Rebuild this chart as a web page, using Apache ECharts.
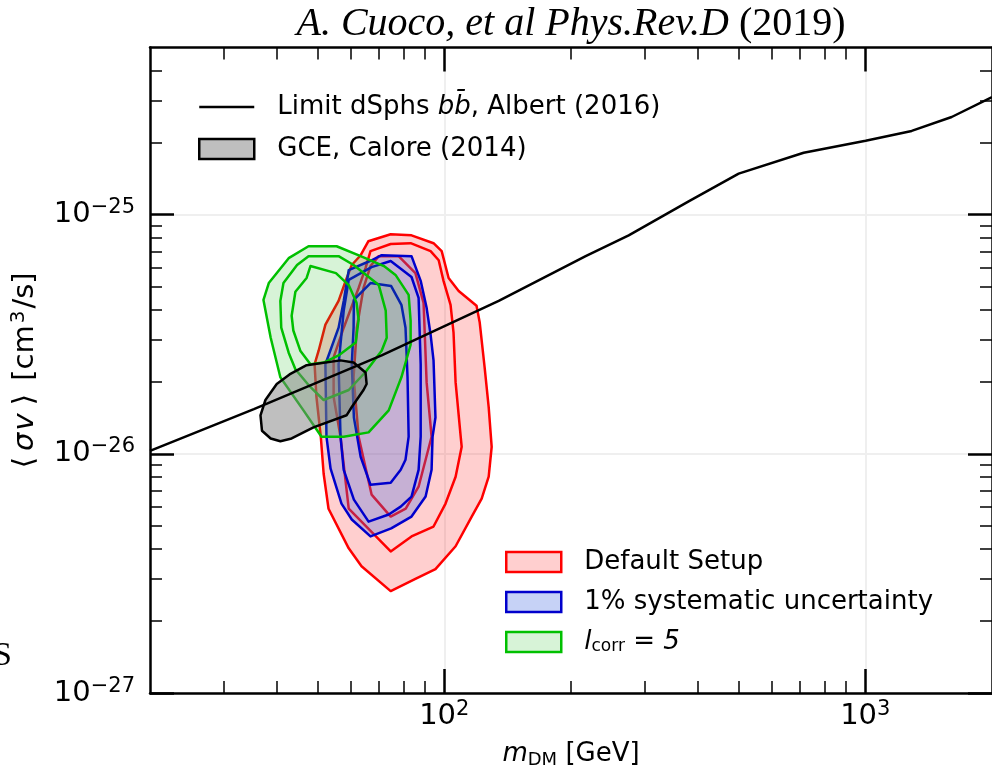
<!DOCTYPE html>
<html>
<head>
<meta charset="utf-8">
<title>Cuoco et al 2019</title>
<script src="https://cdn.jsdelivr.net/npm/echarts@6/dist/echarts.min.js"></script>
<style>
  html, body {margin:0;padding:0;background:#fff;}
  #chart {width:992px;height:774px;}
</style>
</head>
<body>
<div id="chart"></div>
<script>
// axis ranges: mass in GeV, <sigma v> in cm^3/s
var massMin = 20, massMax = 2000;
var sigmaMin = 1e-27, sigmaMax = 5e-25;
var massMajor = [100, 1000];
var sigmaMajor = [1e-27, 1e-26, 1e-25];

// dSph limit, Albert (2016). sigma values in units of 1e-26 cm^3/s
var limitMass  = [20, 35.3, 71, 134.7, 216.7, 274.2, 380.6, 500.4, 714, 1002, 1289, 1604, 2000];
var limitSigma = [1.03, 1.54, 2.58, 4.36, 6.71, 8.2, 11.36, 14.85, 18.15, 20.36, 22.4, 25.61, 31.0];

// contours, [mass, sigma/1e-26], outer level first
var defaultOuter = [[66,7.74],[74.6,8.28],[83.6,8.2],[94.3,7.6],[98.6,7.04],[102.4,5.44],[108.2,4.8],[119.3,4.16],[121.4,3.54],[124.7,2.3],[127.5,1.57],[129.6,1.07],[127.5,0.803],[122.7,0.65],[116.2,0.547],[106.4,0.411],[95.3,0.33],[85.4,0.3],[74.6,0.267],[63.6,0.339],[59.3,0.403],[53.1,0.59],[51.7,0.826],[50.9,1.18],[49.7,1.73],[49.2,2.37],[50.3,2.7],[52.2,3.47],[56.1,4.36],[58.3,5.29],[60.3,6.16],[63.3,6.77]];
var defaultMid = [[66.8,7.04],[74.6,7.54],[83.2,7.6],[92.8,7.04],[97,6.45],[99.6,5.29],[103.5,4.2],[105.2,3.21],[106.4,1.99],[109.4,1.18],[110,1.07],[106.4,0.803],[100.7,0.62],[94.3,0.497],[83.6,0.452],[74.6,0.391],[59.3,0.59],[56.7,1.18],[54.6,1.73],[54.6,2.53],[57.7,3.37],[62.6,4.94],[65,5.98]];
var defaultInner = [[69.9,6.71],[77.9,6.71],[85.4,5.7],[89.3,4.28],[90.8,1.99],[93.3,1.18],[86.9,0.729],[81,0.59],[74.6,0.547],[67.2,0.676],[62.6,1.18],[60.9,2.09],[62,3.37],[64.3,4.94],[66.8,6.1]];

var sysOuter = [[59.3,5.86],[67.2,6.45],[71,6.77],[83.6,6.71],[87.9,5.29],[90.8,4.08],[92.8,3.15],[94.3,2.46],[95.3,1.42],[93.8,1.18],[93.3,0.858],[90.3,0.663],[83.6,0.547],[74.8,0.488],[66.8,0.452],[60.3,0.532],[57,0.62],[53.7,0.867],[52.5,1.18],[52.2,2.37],[56.1,3.37],[57.7,4.36]];
var sysMid = [[59.3,5.34],[67.2,6.04],[74.6,6.4],[83.6,5.49],[86.9,4.49],[87.9,2.37],[87.9,1.18],[86.9,0.858],[83.6,0.663],[78.8,0.602],[73.8,0.558],[66.1,0.521],[61,0.644],[57.7,0.858],[56.7,1.18],[56.1,2.37],[57.7,3.97]];
var sysInner = [[61,4.4],[66.8,5.18],[74.8,5.03],[79.1,4.2],[80.9,3.37],[81.8,2.09],[82.3,1.18],[80.9,0.946],[78.8,0.858],[74.6,0.757],[66.8,0.743],[63.3,0.972],[61,1.42],[60.3,2.37],[60.9,3.37]];

var corrOuter = [[47.6,7.38],[55.5,7.38],[63.3,6.71],[71.9,6.1],[76.6,5.6],[82.3,4.62],[83.2,3.6],[83.2,2.86],[79.1,2.09],[73.8,1.52],[66.1,1.23],[57.7,1.18],[51.1,1.18],[46.3,1.52],[40.8,2.09],[38.7,3.06],[37.2,4.4],[38.3,5.18],[42.7,6.58]];
var corrMid = [[40.8,4.36],[41,3.37],[42.7,2.65],[44.3,2.26],[47.6,1.94],[51.7,1.68],[59.3,1.85],[65,2.2],[71,2.7],[73,3.06],[72.6,3.97],[69.9,5.08],[60.9,6.16],[56.1,6.71],[47.6,6.71],[44.7,6.16],[41.5,5.18]];
var corrInner = [[48.1,6.1],[55.3,5.7],[59.3,5.08],[61.9,4.28],[62.6,3.64],[61.6,2.92],[56.1,2.58],[51.7,2.41],[48.1,2.37],[45.5,2.7],[43.8,3.28],[43.4,3.78],[44.3,4.76],[47.1,5.44]];

// GCE region, Calore (2014)
var gceRegion = [[42.9,2.15],[47.1,2.35],[56.7,2.46],[60.9,2.41],[65,2.19],[65.4,1.96],[64.3,1.85],[60.3,1.57],[58.6,1.45],[48.9,1.29],[43.4,1.16],[40.8,1.13],[38.7,1.16],[36.9,1.25],[36.6,1.45],[37.6,1.68],[40,1.96]];

var NAME_LIMIT = 'Limit dSphs bb\u0304, Albert (2016)';
var NAME_GCE = 'GCE, Calore (2014)';
var NAME_DEF = 'Default Setup';
var NAME_SYS = '1% systematic uncertainty';
var NAME_CORR = 'l_corr = 5';

var FONT = 'DejaVu Sans';
var lg = Math.log10;

function toLog(p) { return [lg(p[0]), lg(p[1] * 1e-26)]; }

// minor ticks at 2..9 x 10^n inside range
function minors(lo, hi, n0, n1) {
    var out = [];
    for (var n = n0; n <= n1; n++) {
        for (var k = 2; k <= 9; k++) {
            var v = k * Math.pow(10, n);
            if (v > lo * 1.0001 && v < hi * 0.9999) out.push(lg(v));
        }
    }
    return out;
}
var xMinor = minors(massMin, massMax, 1, 3);
var yMinor = minors(sigmaMin, sigmaMax, -27, -25);
var xMajor = massMajor.map(lg);
var yMajor = sigmaMajor.map(lg);

function expLabel(v) {
    var e = Math.round(v);
    var s = e < 0 ? '\u2212' + (-e) : '' + e;
    return '{b|10}{s|' + s + '}';
}
var labelRich = {
    b: {fontSize: 29, lineHeight: 35, fontFamily: FONT, color: '#000'},
    s: {fontSize: 21, lineHeight: 21, padding: [0, 0, 14, 0], fontFamily: FONT, color: '#000'}
};

function xAxisDef(pos, major, showLabel) {
    return {
        type: 'value', position: pos, min: lg(massMin), max: lg(massMax),
        axisLine: {show: major, onZero: false, lineStyle: {color: '#000', width: 2.5}},
        axisTick: {show: true, inside: true, length: major ? 24 : 12,
            customValues: major ? xMajor : xMinor,
            lineStyle: {color: '#000', width: major ? 2.5 : 1.5}},
        axisLabel: {show: showLabel, customValues: xMajor, margin: 6,
            formatter: expLabel, rich: labelRich},
        splitLine: {show: major && showLabel, lineStyle: {color: '#efefef', width: 2}},
        name: showLabel ? '{i|m}{sub|DM}{n| [GeV]}' : '',
        nameLocation: 'middle', nameGap: 35,
        nameTextStyle: {rich: {
            i: {fontSize: 26, fontStyle: 'italic', fontFamily: FONT, lineHeight: 30, color: '#000'},
            sub: {fontSize: 18, fontFamily: FONT, lineHeight: 18, padding: [12, 0, 0, 0], color: '#000'},
            n: {fontSize: 26, fontFamily: FONT, lineHeight: 30, color: '#000'}
        }}
    };
}
function yAxisDef(pos, major, showLabel) {
    var base = {fontSize: 29, fontFamily: FONT, lineHeight: 34, color: '#000'};
    return {
        type: 'value', position: pos, min: lg(sigmaMin), max: lg(sigmaMax),
        axisLine: {show: major, onZero: false, lineStyle: {color: '#000', width: 2.5}},
        axisTick: {show: true, inside: true, length: major ? 24 : 12,
            customValues: major ? yMajor : yMinor,
            lineStyle: {color: '#000', width: major ? 2.5 : 1.5}},
        axisLabel: {show: showLabel, customValues: yMajor, margin: 15,
            formatter: expLabel, rich: labelRich},
        splitLine: {show: major && showLabel, lineStyle: {color: '#efefef', width: 2}},
        name: showLabel ? '{la|\u27e8}{i|\u03c3}{iv|v}{ra|\u27e9}{n| [cm}{sup|3}{n|/s]}' : '',
        nameLocation: 'middle', nameGap: 84, nameRotate: 90,
        nameTextStyle: {rich: {
            la: echarts.util.extend({padding: [0, 6, 0, 0]}, base),
            ra: echarts.util.extend({padding: [0, 4, 0, 4]}, base),
            i: echarts.util.extend({fontStyle: 'italic', padding: [0, 2, 0, 0]}, base),
            iv: echarts.util.extend({fontStyle: 'italic', padding: [0, 4, 0, 0]}, base),
            n: base,
            sup: {fontSize: 20, fontFamily: FONT, lineHeight: 20, padding: [0, 2, 14, 2], color: '#000'}
        }}
    };
}

function contourSeries(name, rings, stroke, fill) {
    return {
        type: 'custom', name: name, coordinateSystem: 'cartesian2d', clip: true,
        data: rings.map(function (r) { return toLog(r[0]); }),
        renderItem: function (params, api) {
            var ring = rings[params.dataIndex];
            var pts = ring.map(function (p) { return api.coord(toLog(p)); });
            return {
                type: 'polygon', shape: {points: pts},
                style: {fill: params.dataIndex === 0 ? fill : 'none', stroke: stroke, lineWidth: 2.5, lineJoin: 'round'}
            };
        }
    };
}

var legendText = {fontSize: 26, fontFamily: FONT, color: '#000', lineHeight: 26, padding: [0, 0, 0, 18],
    rich: {
        i: {fontSize: 26, fontStyle: 'italic', fontFamily: FONT, lineHeight: 26, color: '#000'},
        sub: {fontSize: 17, fontFamily: FONT, lineHeight: 17, padding: [9, 0, 0, 0], color: '#000'},
        n: {fontSize: 26, fontFamily: FONT, lineHeight: 26, color: '#000'}
    }};

// plain horizontal stroke as legend icon for the limit line
var lineIcon = 'path://M0,0L0,0M0,8.75L55,8.75L55,11.25L0,11.25ZM55,20L55,20';

var option = {
    animation: false,
    backgroundColor: '#fff',
    title: {
        text: '{i|A. Cuoco, et al Phys.Rev.D}{n| (2019)}',
        left: 571, top: 2, textAlign: 'center', padding: 0,
        textStyle: {fontWeight: 'normal', rich: {
            i: {fontSize: 40, fontStyle: 'italic', fontWeight: 'normal', fontFamily: 'Liberation Serif', color: '#000', lineHeight: 45},
            n: {fontSize: 40, fontWeight: 'normal', fontFamily: 'Liberation Serif', color: '#000', lineHeight: 45}
        }}
    },
    grid: {left: 150, top: 47.5, width: 844, height: 650.5, containLabel: false},
    xAxis: [xAxisDef('bottom', true, true), xAxisDef('bottom', false, false),
            xAxisDef('top', true, false), xAxisDef('top', false, false)],
    yAxis: [yAxisDef('left', true, true), yAxisDef('left', false, false),
            yAxisDef('right', true, false), yAxisDef('right', false, false)],
    legend: [{
        orient: 'vertical', left: 198, top: 94, padding: 0, itemGap: 16,
        itemWidth: 55, itemHeight: 20, selectedMode: false,
        textStyle: legendText,
        formatter: function (n) {
            if (n === NAME_LIMIT) return 'Limit dSphs {i|bb\u0304}, Albert (2016)';
            return n;
        },
        data: [
            {name: NAME_LIMIT, icon: lineIcon, itemStyle: {color: '#000', borderWidth: 0}},
            {name: NAME_GCE, icon: 'rect', itemStyle: {color: 'rgba(128,128,128,0.5)', borderColor: '#000', borderWidth: 2.5}}
        ]
    }, {
        orient: 'vertical', left: 505, top: 549, padding: 0, itemGap: 14,
        itemWidth: 55, itemHeight: 20, selectedMode: false,
        textStyle: legendText,
        formatter: function (n) {
            if (n === NAME_CORR) return '{i|l}{sub|corr}{n| = }{i|5}';
            return n;
        },
        data: [
            {name: NAME_DEF, icon: 'rect', itemStyle: {color: 'rgba(255,0,0,0.19)', borderColor: '#ff0000', borderWidth: 2.5}},
            {name: NAME_SYS, icon: 'rect', itemStyle: {color: 'rgba(65,105,225,0.3)', borderColor: '#0000cc', borderWidth: 2.5}},
            {name: NAME_CORR, icon: 'rect', itemStyle: {color: 'rgba(40,190,40,0.19)', borderColor: '#00c000', borderWidth: 2.5}}
        ]
    }],
    graphic: [{
        type: 'text', left: -7, top: 639, silent: true,
        style: {text: 'S', font: '34px "Liberation Serif"', fill: '#000'}
    }],
    series: [
        contourSeries(NAME_DEF, [defaultOuter, defaultMid, defaultInner], '#ff0000', 'rgba(255,0,0,0.19)'),
        contourSeries(NAME_SYS, [sysOuter, sysMid, sysInner], '#0000cc', 'rgba(65,105,225,0.3)'),
        contourSeries(NAME_CORR, [corrOuter, corrMid, corrInner], '#00c000', 'rgba(40,190,40,0.19)'),
        contourSeries(NAME_GCE, [gceRegion], '#000', 'rgba(128,128,128,0.5)'),
        {
            type: 'line', name: NAME_LIMIT, symbol: 'none', silent: true,
            data: limitMass.map(function (m, i) { return [lg(m), lg(limitSigma[i] * 1e-26)]; }),
            lineStyle: {color: '#000', width: 2.5}, itemStyle: {color: '#000'}
        }
    ]
};

var chart = echarts.init(document.getElementById('chart'), null, {renderer: 'canvas'});
chart.setOption(option);
</script>
</body>
</html>
